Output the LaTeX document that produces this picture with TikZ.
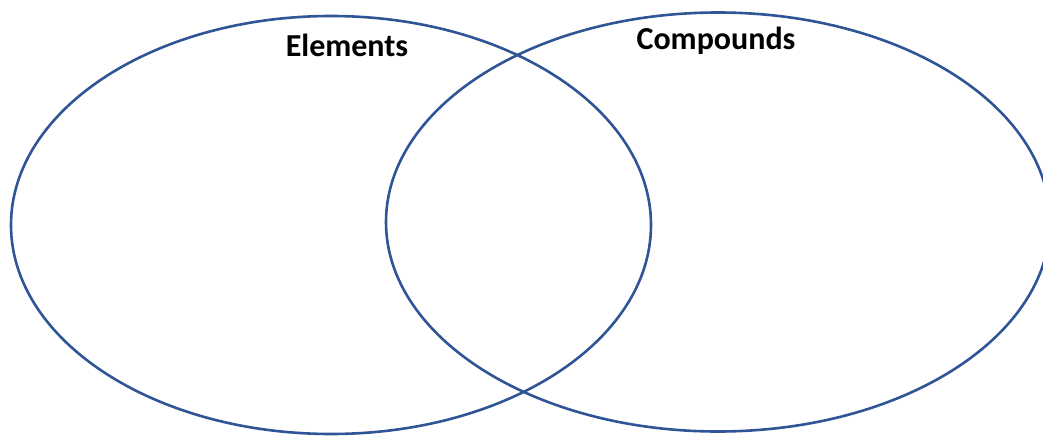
\documentclass[tikz,border=0pt]{standalone}
\usepackage{fontspec}
\setmainfont{Carlito}
\usepackage{tikz}
\usetikzlibrary{shapes.geometric}

\definecolor{vennblue}{HTML}{2F5597}

\begin{document}
\begin{tikzpicture}[x=1pt, y=-1pt]
	\tikzset{set/.style = {ellipse, draw = vennblue, line width = 2.6pt, inner sep = 0pt}}
	\tikzset{setlabel/.style = {font = \bfseries\fontsize{32}{38}\selectfont, inner sep = 0pt}}

	\useasboundingbox (0,0) rectangle (1043,436);

%% Sets
\node[set, minimum width = 640pt, minimum height = 418pt] (elements) at (331,225) {};
\node[set, minimum width = 664pt, minimum height = 419pt] (compounds) at (718,222) {};

%% Labels
\node[setlabel] (elementslabel) at (347,45) {Elements};
\node[setlabel] (compoundslabel) at (716,41) {Compounds};
\end{tikzpicture}
\end{document}
